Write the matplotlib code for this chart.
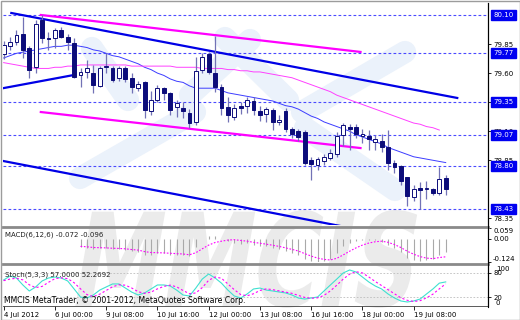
import matplotlib
matplotlib.use("Agg")
import matplotlib.pyplot as plt
from matplotlib.lines import Line2D
from matplotlib.patches import Rectangle, PathPatch
from matplotlib.textpath import TextPath
from matplotlib.font_manager import FontProperties
from matplotlib.transforms import Affine2D, IdentityTransform

W, H = 520, 320

# === H4 bars, 4 Jul - 20 Jul 2012 ===
opens = [79.76, 79.83, 79.87, 79.94, 79.82, 79.65, 80.06, 79.90, 79.90, 79.97,
         79.91, 79.86, 79.58, 79.61, 79.60, 79.49, 79.65, 79.64, 79.56, 79.64,
         79.56, 79.47, 79.52, 79.27, 79.37, 79.47, 79.43, 79.31, 79.30, 79.26,
         79.18, 79.63, 79.76, 79.60, 79.48, 79.31, 79.22, 79.32, 79.32, 79.36,
         79.27, 79.25, 79.28, 79.18, 79.27, 79.12, 79.10, 79.09, 78.85, 78.81,
         78.84, 78.87, 78.90, 79.07, 79.14, 79.14, 79.06, 79.06, 79.01, 79.02,
         78.96, 78.83, 78.80, 78.71, 78.53, 78.61, 78.60, 78.60, 78.57, 78.70]
highs = [79.88, 79.91, 79.97, 80.08, 79.83, 80.06, 80.10, 79.95, 79.99, 80.00,
         79.94, 79.90, 79.64, 79.71, 79.67, 79.66, 79.77, 79.66, 79.66, 79.66,
         79.60, 79.53, 79.53, 79.45, 79.50, 79.48, 79.44, 79.37, 79.35, 79.29,
         79.74, 79.77, 79.78, 79.92, 79.51, 79.39, 79.33, 79.35, 79.39, 79.39,
         79.32, 79.31, 79.30, 79.24, 79.30, 79.14, 79.12, 79.11, 78.88, 78.88,
         78.90, 78.95, 79.09, 79.17, 79.16, 79.16, 79.12, 79.11, 79.07, 79.08,
         79.11, 78.85, 78.81, 78.71, 78.64, 78.66, 78.67, 78.61, 78.79, 78.72]
lows = [79.72, 79.80, 79.84, 79.73, 79.56, 79.60, 79.86, 79.80, 79.82, 79.90,
        79.80, 79.56, 79.48, 79.56, 79.43, 79.48, 79.60, 79.52, 79.53, 79.52,
        79.43, 79.45, 79.21, 79.24, 79.35, 79.37, 79.24, 79.22, 79.21, 79.13,
        79.15, 79.60, 79.59, 79.44, 79.24, 79.18, 79.20, 79.25, 79.26, 79.24,
        79.19, 79.18, 79.11, 79.15, 79.09, 79.04, 79.02, 78.81, 78.68, 78.77,
        78.81, 78.85, 78.88, 78.97, 78.94, 79.04, 79.00, 78.94, 78.94, 78.92,
        78.77, 78.74, 78.64, 78.46, 78.50, 78.43, 78.52, 78.55, 78.55, 78.55]
closes = [79.84, 79.87, 79.93, 79.80, 79.63, 80.02, 79.90, 79.89, 79.97, 79.91,
          79.87, 79.57, 79.61, 79.64, 79.50, 79.64, 79.66, 79.54, 79.64, 79.55,
          79.48, 79.51, 79.28, 79.37, 79.47, 79.43, 79.28, 79.34, 79.27, 79.17,
          79.62, 79.74, 79.61, 79.48, 79.30, 79.24, 79.30, 79.30, 79.37, 79.28,
          79.24, 79.29, 79.18, 79.20, 79.12, 79.08, 79.05, 78.83, 78.82, 78.86,
          78.88, 78.91, 79.06, 79.15, 79.12, 79.08, 79.08, 79.03, 79.03, 78.96,
          78.83, 78.79, 78.67, 78.54, 78.60, 78.59, 78.61, 78.57, 78.69, 78.60]

ma_fast = [79.73, 79.75, 79.77, 79.78, 79.79, 79.80, 79.81, 79.82, 79.83, 79.83,
           79.84, 79.84, 79.83, 79.82, 79.80, 79.79, 79.77, 79.75, 79.74, 79.72,
           79.70, 79.68, 79.65, 79.63, 79.60, 79.58, 79.55, 79.53, 79.52, 79.49,
           79.47, 79.47, 79.47, 79.47, 79.45, 79.43, 79.42, 79.41, 79.40, 79.39,
           79.38, 79.37, 79.36, 79.34, 79.32, 79.31, 79.29, 79.26, 79.23, 79.21,
           79.18, 79.16, 79.14, 79.12, 79.10, 79.07, 79.05, 79.03, 79.01, 78.99,
           78.96, 78.94, 78.92, 78.90, 78.88, 78.87, 78.86, 78.85, 78.84, 78.83]
ma_slow = [79.69, 79.68, 79.67, 79.66, 79.65, 79.64, 79.64, 79.64, 79.65, 79.65,
           79.66, 79.66, 79.67, 79.67, 79.67, 79.67, 79.67, 79.67, 79.67, 79.67,
           79.66, 79.66, 79.66, 79.66, 79.66, 79.66, 79.66, 79.65, 79.65, 79.65,
           79.65, 79.64, 79.64, 79.64, 79.64, 79.63, 79.63, 79.62, 79.62, 79.61,
           79.61, 79.60, 79.59, 79.58, 79.57, 79.56, 79.54, 79.52, 79.50, 79.48,
           79.46, 79.44, 79.41, 79.39, 79.37, 79.35, 79.33, 79.31, 79.29, 79.27,
           79.25, 79.23, 79.21, 79.19, 79.17, 79.16, 79.14, 79.13, 79.11]

# MACD(6,12,6) from bar 12 on
macd_start = 12
macd_main = [-0.045, -0.048, -0.055, -0.050, -0.050, -0.055, -0.054, -0.058,
             -0.066, -0.068, -0.088, -0.086, -0.078, -0.076, -0.084, -0.084,
             -0.088, -0.094, -0.045, 0.000, 0.018, 0.015, 0.000, -0.012,
             -0.020, -0.025, -0.024, -0.030, -0.038, -0.040, -0.050, -0.054,
             -0.066, -0.075, -0.084, -0.110, -0.120, -0.122, -0.118, -0.110,
             -0.075, -0.040, -0.020, -0.010, -0.004, -0.004, -0.006, -0.015,
             -0.035, -0.050, -0.072, -0.102, -0.112, -0.116, -0.112, -0.106,
             -0.086, -0.072]
macd_signal = [-0.040, -0.042, -0.046, -0.047, -0.048, -0.050, -0.051, -0.053,
               -0.057, -0.060, -0.068, -0.073, -0.074, -0.075, -0.077, -0.079,
               -0.081, -0.085, -0.074, -0.053, -0.033, -0.019, -0.012, -0.006,
               -0.004, -0.008, -0.012, -0.018, -0.023, -0.028, -0.034, -0.040,
               -0.048, -0.056, -0.065, -0.079, -0.092, -0.103, -0.110, -0.113,
               -0.104, -0.086, -0.066, -0.048, -0.033, -0.022, -0.015, -0.012,
               -0.018, -0.030, -0.046, -0.066, -0.082, -0.095, -0.103, -0.106,
               -0.100, -0.096]

stoch_main = [61.7, 71.5, 66.6, 49.5, 34.8, 44.6, 59.3, 66.6, 69.0, 66.6,
              59.3, 39.7, 20.0, 17.6, 25.0, 37.0, 44.6, 52.0, 52.0, 42.0,
              32.0, 25.0, 30.0, 39.7, 49.5, 49.5, 47.0, 37.0, 25.0, 22.5,
              42.0, 64.0, 76.4, 66.6, 54.0, 37.0, 22.5, 17.6, 27.4, 39.7,
              42.0, 37.0, 34.8, 32.3, 30.0, 25.0, 17.6, 15.0, 17.6, 20.0,
              34.8, 49.5, 64.0, 78.9, 86.2, 81.3, 69.0, 56.8, 47.0, 39.7,
              27.4, 17.6, 10.3, 7.8, 10.3, 15.0, 27.4, 39.7, 54.0, 57.0]
stoch_signal = [60, 64, 66, 62, 50, 43, 46, 56, 65, 67,
                65, 55, 40, 26, 21, 27, 36, 45, 50, 49,
                42, 33, 29, 32, 40, 46, 49, 45, 36, 28,
                30, 43, 61, 69, 66, 52, 38, 26, 23, 28,
                36, 40, 38, 35, 32, 29, 24, 19, 17, 18,
                24, 35, 49, 64, 76, 82, 79, 69, 58, 48,
                38, 28, 18, 12, 9, 11, 18, 27, 40, 52.3]

# horizontal levels with price boxes
levels = [80.10, 79.77, 79.35, 79.07, 78.80, 78.43]
price_ticks = [79.85, 79.60, 79.35, 79.10, 78.85, 78.35]

# drawn trend lines: (bar0, price0, bar1, price1)
blue_lines = [(1.2, 80.117, 70.8, 79.386),
              (-0.1, 79.47, 11.0, 79.584),
              (-0.1, 78.844, 52.5, 78.285)]
pink_lines = [(5.8, 80.10, 55.7, 79.782),
              (5.8, 79.265, 55.7, 78.955)]

date_ticks = [0, 8, 16, 24, 32, 40, 48, 56, 64]
date_labels = ["4 Jul 2012", "6 Jul 00:00", "9 Jul 08:00", "10 Jul 16:00",
               "12 Jul 00:00", "13 Jul 08:00", "16 Jul 16:00", "18 Jul 00:00",
               "19 Jul 08:00"]

NAVY = "#0c0c7a"
WICK = "#7272b6"
LEVEL = "#4a4aff"
FS = 5

fig = plt.figure(figsize=(W / 100, H / 100), dpi=100, facecolor="white")


def px_axes(x0, y0, x1, y1):
    ax = fig.add_axes([x0 / W, 1 - y1 / H, (x1 - x0) / W, (y1 - y0) / H])
    ax.set_facecolor("none")
    for s in ["top", "left", "bottom"]:
        ax.spines[s].set_visible(False)
    ax.spines["right"].set_color("black")
    ax.spines["right"].set_linewidth(0.8)
    ax.yaxis.tick_right()
    ax.tick_params(axis="y", labelsize=FS, length=2.5, width=0.6, pad=1.2)
    ax.set_xlim(-0.1, 75.6)
    ax.set_xticks([])
    return ax


# --- watermark (drawn in figure pixels, behind everything) ---
fp = FontProperties(family="DejaVu Sans", weight="bold")
tp = TextPath((0, 0), "MMCIS", size=100, prop=fp)
bb = tp.get_extents()
tr = (Affine2D().translate(-bb.x0, -bb.y0)
      .scale(330 / bb.width, 98 / bb.height)
      .skew_deg(10, 0).translate(75, H - 308))
fig.add_artist(PathPatch(tr.transform_path(tp), fc="#ebebeb", ec="none",
                         transform=IdentityTransform(), zorder=-6))

bands = [((92, 48), (128, 100)), ((80, 178), (195, 112)), ((190, 95), (250, 40)),
         ((225, 38), (288, 100)), ((302, 112), (405, 52)), ((305, 128), (395, 190))]
for (xa, ya), (xb, yb) in bands:
    fig.add_artist(Line2D([xa, xb], [H - ya, H - yb], color="#ebf2fb", lw=16,
                          solid_capstyle="round", transform=IdentityTransform(),
                          zorder=-5))

# --- main price panel ---
main = px_axes(3, 3, 488, 225)
main.set_ylim(78.293, 80.203)

for lv in levels:
    main.axhline(lv, color=LEVEL, lw=0.8, dashes=(2.5, 2), zorder=1)

for x0, p0, x1, p1 in blue_lines:
    main.plot([x0, x1], [p0, p1], color="#0000e6", lw=1.6, zorder=2)
for x0, p0, x1, p1 in pink_lines:
    main.plot([x0, x1], [p0, p1], color="#ff00ff", lw=1.6, zorder=2)

bars = list(range(len(opens)))
main.plot(bars, ma_fast, color="#3c3cff", lw=0.7, zorder=3)
main.plot(bars[:len(ma_slow)], ma_slow, color="#ff40ff", lw=0.7, zorder=3)

main.vlines(bars, lows, highs, color=WICK, lw=0.9, zorder=4)
for i in bars:
    o, c = opens[i], closes[i]
    lo = min(o, c)
    h = max(abs(c - o), 0.006)
    fc = "white" if c >= o else NAVY
    main.add_patch(Rectangle((i - 0.3, lo), 0.6, h, fc=fc, ec=NAVY, lw=0.7,
                             zorder=5))

main.set_yticks(price_ticks)
main.set_yticklabels([f"{p:.2f}" for p in price_ticks])
for lv in levels:
    main.text(1.011, lv, f"{lv:.2f}", transform=main.get_yaxis_transform(),
              fontsize=FS, color="white", va="center", ha="left", clip_on=False,
              zorder=10, bbox=dict(boxstyle="square,pad=0.3", fc="#0000f0",
                                   ec="#0000f0"))

# --- MACD panel ---
macd = px_axes(3, 228, 488, 262)
macd.set_ylim(-0.124, 0.059)
mx = list(range(macd_start, macd_start + len(macd_main)))
macd.vlines(mx, 0, macd_main, color="#a9a9a9", lw=0.8)
macd.plot(mx, macd_signal, color="#ff00ff", lw=0.8, dashes=(1.5, 1.5))
macd.set_yticks([0.059, 0.0, -0.124])
macd.set_yticklabels(["0.059", "0.00", "-0.124"])
lbls = macd.get_yticklabels()
lbls[0].set_va("top")
lbls[2].set_va("bottom")
macd.text(0.004, 0.79, "MACD(6,12,6) -0.072 -0.096", transform=macd.transAxes,
          fontsize=FS, va="center", ha="left", color="#202020")

# --- Stochastic panel ---
stoch = px_axes(3, 266, 488, 306)
stoch.set_ylim(-2, 96)
stoch.spines["bottom"].set_visible(True)
stoch.spines["bottom"].set_color("#404040")
stoch.spines["bottom"].set_linewidth(0.6)
for lv in [80, 20]:
    stoch.axhline(lv, color="#bdbdbd", lw=0.6, dashes=(2, 2))
stoch.plot(bars, stoch_main, color="#3fe0d0", lw=0.8)
stoch.plot(bars, stoch_signal, color="#ff00ff", lw=0.8, dashes=(2, 2))
stoch.set_yticks([80, 20])
stoch.set_yticklabels(["80", "20"])
stoch.text(1.016, 1.0, "100", transform=stoch.transAxes, fontsize=FS,
           va="top", ha="left")
stoch.text(1.016, 0.0, "0", transform=stoch.transAxes, fontsize=FS,
           va="bottom", ha="left")
stoch.text(0.004, 0.775, "Stoch(5,3,3) 57.0000 52.2692", transform=stoch.transAxes,
           fontsize=FS, va="center", ha="left", color="#202020")
stoch.text(0.002, 0.13, "MMCIS MetaTrader, \u00a9 2001-2012, MetaQuotes Software Corp.",
           transform=stoch.transAxes, fontsize=5.6, va="center", ha="left",
           color="black")

stoch.set_xticks(date_ticks)
stoch.set_xticklabels(date_labels, ha="left")
stoch.tick_params(axis="x", labelsize=FS, length=3, width=0.6, pad=1)

# panel separators, right axis line, outer frame
for y in [226.5, 264]:
    fig.add_artist(Line2D([3, 488], [H - y, H - y], color="#8a8a8a", lw=2,
                          transform=IdentityTransform()))
fig.add_artist(Line2D([488, 488], [H - 3, H - 307], color="black", lw=0.8,
                      transform=IdentityTransform()))
fig.add_artist(Rectangle((0.5, 0.5), W - 1, H - 1, fill=False, ec="#9c9c9c",
                         lw=1, transform=IdentityTransform()))

fig.savefig("out.png", dpi=100)
